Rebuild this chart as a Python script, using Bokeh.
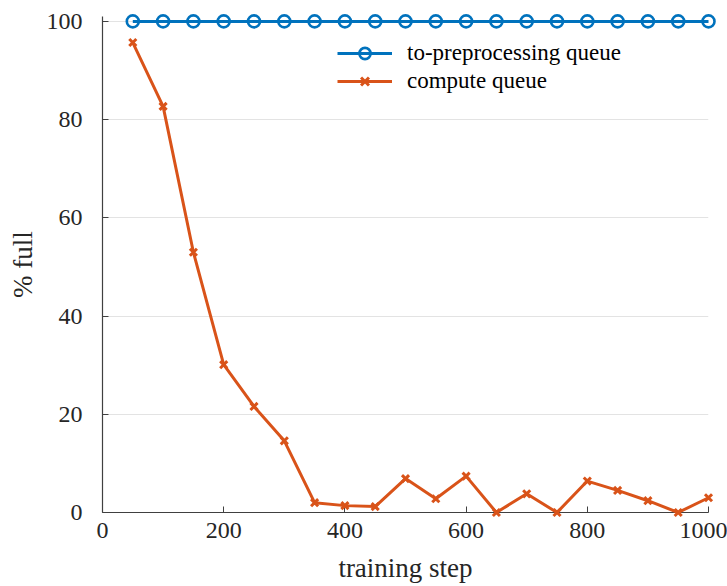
from bokeh.plotting import figure
from bokeh.models import Range1d, Legend, LegendItem, FixedTicker
from bokeh.embed import file_html
from bokeh.resources import INLINE

# training steps at which the queues were sampled
steps = [50, 100, 150, 200, 250, 300, 350, 400, 450, 500,
         550, 600, 650, 700, 750, 800, 850, 900, 950, 1000]
# fill level of each queue, percent
preprocessing_full = [100] * 20
compute_full = [95.7, 82.7, 53.0, 30.1, 21.6, 14.6, 2.0, 1.4, 1.2, 6.9,
                2.8, 7.4, 0.0, 3.8, 0.0, 6.4, 4.5, 2.4, 0.0, 3.0]

x_ticks = [0, 200, 400, 600, 800, 1000]
y_ticks = [0, 20, 40, 60, 80, 100]

BLUE = "#0072BD"
ORANGE = "#D95319"
FONT = "Liberation Serif"
AXIS_COLOR = "#404040"
TEXT_COLOR = "#262626"

p = figure(width=727, height=586, output_backend="svg", toolbar_location=None,
           x_range=Range1d(0, 1000), y_range=Range1d(0, 101),
           min_border_left=102, min_border_right=19,
           min_border_top=16, min_border_bottom=74)
p.outline_line_color = None
p.background_fill_color = "white"
p.border_fill_color = "white"

# axes
for ax in (p.xaxis[0], p.yaxis[0]):
    ax.axis_line_color = AXIS_COLOR
    ax.axis_line_width = 1.2
    ax.major_tick_line_color = AXIS_COLOR
    ax.major_tick_in = 6
    ax.major_tick_out = 0
    ax.minor_tick_line_color = None
    ax.major_label_text_font = FONT
    ax.major_label_text_font_size = "24px"
    ax.major_label_text_color = TEXT_COLOR
    ax.axis_label_text_font = FONT
    ax.axis_label_text_font_size = "27px"
    ax.axis_label_text_font_style = "normal"
    ax.axis_label_text_color = TEXT_COLOR

p.xaxis.ticker = FixedTicker(ticks=x_ticks)
p.yaxis.ticker = FixedTicker(ticks=y_ticks)
p.xaxis.axis_label = "training step"
p.yaxis.axis_label = "% full"
p.xaxis.major_label_standoff = 10
p.yaxis.major_label_standoff = 20
p.xaxis.axis_label_standoff = 12
p.yaxis.axis_label_standoff = 6

p.xgrid.visible = False
p.ygrid.ticker = FixedTicker(ticks=y_ticks)
p.ygrid.grid_line_color = "#e3e3e3"
p.ygrid.grid_line_width = 1

# series
l1 = p.line(steps, preprocessing_full, line_color=BLUE, line_width=3, level="overlay")
m1 = p.scatter(steps, preprocessing_full, marker="circle", size=12,
               line_color=BLUE, line_width=2.6, fill_color=None, level="overlay")
l2 = p.line(steps, compute_full, line_color=ORANGE, line_width=3, level="overlay")
m2 = p.scatter(steps, compute_full, marker="x", size=10,
               line_color=ORANGE, line_width=3, level="overlay")

legend = Legend(items=[
    LegendItem(label="to-preprocessing queue", renderers=[l1, m1]),
    LegendItem(label="compute queue", renderers=[l2, m2]),
], location=(235, 417))
legend.border_line_color = None
legend.background_fill_alpha = 0
legend.padding = 0
legend.margin = 0
legend.spacing = 0
legend.glyph_width = 55
legend.glyph_height = 28
legend.label_height = 28
legend.label_standoff = 15
legend.label_text_font = FONT
legend.label_text_font_size = "23px"
legend.label_text_color = "#000000"
p.add_layout(legend)

open("out.html", "w").write(file_html(p, INLINE))
